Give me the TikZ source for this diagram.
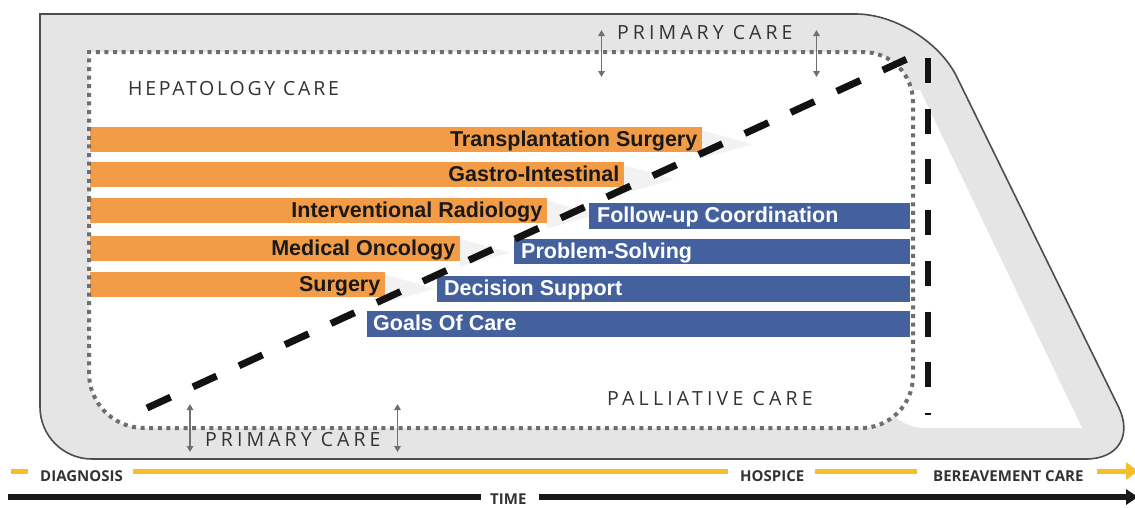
\documentclass[tikz,border=0pt]{standalone}
\usepackage{fontspec}
\setmainfont{Liberation Sans}
\newfontfamily\capsfont{Open Sans}
\usetikzlibrary{arrows.meta}

\definecolor{outerfill}{HTML}{E5E5E5}
\definecolor{outerline}{HTML}{4D4D4D}
\definecolor{dotgrey}{HTML}{6E6E6E}
\definecolor{barorange}{HTML}{F29C48}
\definecolor{barblue}{HTML}{44619E}
\definecolor{labelgrey}{HTML}{333333}
\definecolor{timeyellow}{HTML}{F5BF2A}
\definecolor{arrowgrey}{HTML}{707070}

\tikzset{
  obar/.style={fill=barorange},
  bbar/.style={fill=barblue},
  ghost/.style={fill=black!5},
  olabel/.style={anchor=base east, inner sep=0pt, text=black!90,
    font=\fontsize{21.5}{24}\selectfont\bfseries},
  blabel/.style={anchor=base west, inner sep=0pt, text=white,
    font=\fontsize{21.5}{24}\selectfont\bfseries},
  arealabel/.style={anchor=base west, inner sep=0pt, text=labelgrey},
  timelabel/.style={anchor=base west, inner sep=0pt, text=labelgrey,
    font=\capsfont\fontsize{15}{18}\selectfont\bfseries},
  dotted border/.style={draw=dotgrey, line width=4pt, dash pattern=on 4pt off 4.6pt},
  heavydash/.style={draw=black!93, line width=7pt},
  scope arrow/.style={draw=arrowgrey, line width=1.7pt,
    {Triangle[width=6.5pt,length=6pt]}-{Triangle[width=6.5pt,length=6pt]}},
  yline/.style={draw=timeyellow, line width=5pt},
  kline/.style={draw=black!90, line width=5.5pt},
}

\begin{document}
\begin{tikzpicture}[x=1pt,y=-1pt]
\useasboundingbox (0,0) rectangle (1135,507);

% outer band: primary care
\draw[fill=outerfill, draw=outerline, line width=1.6pt]
  (40,250) -- (40,14) [rounded corners=70pt] -- (926,14) [rounded corners=58pt]
  -- (1144,459) [rounded corners=52pt] -- (40,459) [rounded corners=70pt] -- cycle;

% white interior: hepatology / palliative care
\fill[white] (880,90) -- (920,90) -- (1082,428) [rounded corners=45pt]
  -- (880,428) [sharp corners] -- cycle;
\fill[white] (89,250) -- (89,52) [rounded corners=50pt] -- (913,52) [rounded corners=52pt]
  -- (913,428) [rounded corners=55pt] -- (89,428) [rounded corners=50pt] -- cycle;

% faint hand-over chevrons behind the bars
\foreach \e/\t in {702/127.3, 624/162.3, 547/197.5, 460/235.7, 385/271.7}
  \fill[ghost] (\e,\t+3) -- (\e+50,\t+17) -- (\e,\t+31) -- cycle;

% specialist bars
\fill[obar] (90,127.3) rectangle (702,152.3);
\fill[obar] (90,162.3) rectangle (624,187.3);
\fill[obar] (90,197.5) rectangle (547,222.5);
\fill[obar] (90,235.7) rectangle (460,260.7);
\fill[obar] (90,271.7) rectangle (385,296.7);

\node[olabel] (tx) at (697.5,146.8) {Transplantation Surgery};
\node[olabel] (gi) at (619.5,181.8) {Gastro-Intestinal};
\node[olabel] (ir) at (542.5,217.0) {Interventional Radiology};
\node[olabel] (mo) at (455.5,255.2) {Medical Oncology};
\node[olabel] (su) at (380.5,291.2) {Surgery};

% palliative bars
\fill[bbar] (589,203) rectangle (910,229);
\fill[bbar] (514,238.5) rectangle (910,264);
\fill[bbar] (437,275.5) rectangle (910,301.5);
\fill[bbar] (367,310.7) rectangle (910,336.7);

\node[blabel] (fu) at (597,222.5) {Follow-up Coordination};
\node[blabel] (ps) at (521,258) {Problem-Solving};
\node[blabel] (ds) at (444,295) {Decision Support};
\node[blabel] (gc) at (373,330.2) {Goals Of Care};

% dotted border of the specialist area
\path[dotted border] (89,250) -- (89,52) [rounded corners=50pt] -- (913,52) [rounded corners=52pt]
  -- (913,428) [rounded corners=55pt] -- (89,428) [rounded corners=50pt] -- cycle;

% transition lines
\coordinate (d0) at (147,408);
\coordinate (d1) at (907,59);
\draw[heavydash, dash pattern=on 26pt off 24.6pt] (d0) -- (d1);
\coordinate (v0) at (928,58);
\coordinate (v1) at (928,414.5);
\draw[heavydash, line width=6.5pt, dash pattern=on 25pt off 25.7pt] (v0) -- (v1);

% area labels
\node[arealabel, font=\capsfont\fontsize{19.5}{22}\selectfont\addfontfeature{LetterSpace=14}]
  (hep) at (128,95) {HEPATOLOGY CARE};
\node[arealabel, font=\capsfont\fontsize{19.5}{22}\selectfont\addfontfeature{LetterSpace=20.8}]
  (pcTop) at (617,39.3) {PRIMARY CARE};
\node[arealabel, font=\capsfont\fontsize{19.5}{22}\selectfont\addfontfeature{LetterSpace=20.8}]
  (pcBot) at (205,446) {PRIMARY CARE};
\node[arealabel, font=\capsfont\fontsize{19.5}{22}\selectfont\addfontfeature{LetterSpace=21.5}]
  (pal) at (607,405) {PALLIATIVE CARE};

% primary care overlap arrows
\coordinate (a1t) at (601.5,30); \coordinate (a1b) at (601.5,77);
\coordinate (a2t) at (816.5,30); \coordinate (a2b) at (816.5,77);
\coordinate (a3t) at (190,404);  \coordinate (a3b) at (190,452);
\coordinate (a4t) at (397.5,404); \coordinate (a4b) at (397.5,452);
\draw[scope arrow] (a1t) -- (a1b);
\draw[scope arrow] (a2t) -- (a2b);
\draw[scope arrow] (a3t) -- (a3b);
\draw[scope arrow] (a4t) -- (a4b);

% care timeline
\node[timelabel] (diag) at (40,481) {DIAGNOSIS};
\node[timelabel] (hosp) at (740,481) {HOSPICE};
\node[timelabel] (ber) at (933,481) {BEREAVEMENT CARE};
\coordinate (y0) at (11,471); \coordinate (y1) at (28,471);
\coordinate (y2) at (133,471); \coordinate (y3) at (728,471);
\coordinate (y4) at (815,471); \coordinate (y5) at (917,471);
\coordinate (y6) at (1097,471); \coordinate (y7) at (1138,471);
\draw[yline] (y0) -- (y1);
\draw[yline] (y2) -- (y3);
\draw[yline] (y4) -- (y5);
\draw[yline, -{Triangle[width=17pt,length=12pt]}] (y6) -- (y7);

% time axis
\node[timelabel] (time) at (490,504.5) {TIME};
\coordinate (k0) at (8,497); \coordinate (k1) at (481,497);
\coordinate (k2) at (539,497); \coordinate (k3) at (1138,497);
\draw[kline] (k0) -- (k1);
\draw[kline, -{Triangle[width=15pt,length=12pt]}] (k2) -- (k3);

\end{tikzpicture}
\end{document}
